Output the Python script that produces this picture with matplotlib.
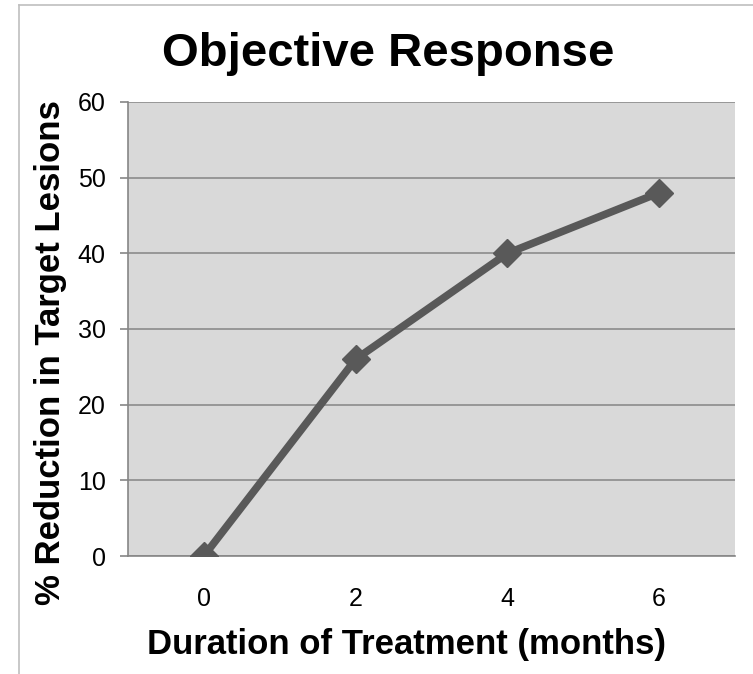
import numpy as np
import matplotlib
matplotlib.use('Agg')
import matplotlib.pyplot as plt
from matplotlib.lines import Line2D

plt.rcParams['font.family'] = ['Liberation Sans', 'DejaVu Sans']

# Data
months = ['0', '2', '4', '6']
reduction = [0, 26, 40, 48]
y_ticks = [0, 10, 20, 30, 40, 50, 60]

fig = plt.figure(figsize=(7.53, 6.74), dpi=100)
ax = fig.add_axes([128 / 753, 1 - 556 / 674, 607 / 753, 454 / 674])

x = np.arange(len(months))
ax.plot(x, reduction, color='#595959', lw=5.5, marker='D', ms=14,
        mfc='#595959', mec='#595959', solid_capstyle='butt', zorder=3)

ax.set_facecolor('#d9d9d9')
ax.set_xlim(-0.5, len(months) - 0.5)
ax.set_ylim(0, 60)
ax.set_yticks(y_ticks)
ax.set_xticks(x)
ax.set_xticklabels(months)
ax.grid(axis='y', color='#8c8c8c', lw=1.2)
ax.set_axisbelow(True)

for side in ['top', 'right']:
	ax.spines[side].set_visible(False)
for side in ['left', 'bottom']:
	ax.spines[side].set_color('#868686')
	ax.spines[side].set_linewidth(1.2)

ax.tick_params(axis='y', length=6, width=1.2, color='#868686', pad=10, labelsize=18)
ax.tick_params(axis='x', length=0, pad=22, labelsize=18)

ax.set_xlabel('Duration of Treatment (months)', fontsize=25, fontweight='bold', va='center')
ax.set_ylabel('% Reduction in Target Lesions', fontsize=25, fontweight='bold', va='center')
ax.xaxis.set_label_coords(0.458, -0.196)
ax.yaxis.set_label_coords(-0.128, 0.449)
fig.text(388 / 753, 1 - 54 / 674, 'Objective Response', fontsize=34, fontweight='bold',
         ha='center', va='center')

# thin frame lines at top and left of the picture
fig.add_artist(Line2D([19 / 753, 1], [1 - 5 / 674] * 2, color='#bfbfbf', lw=1.2))
fig.add_artist(Line2D([19 / 753] * 2, [0, 1 - 5 / 674], color='#bfbfbf', lw=1.2))

fig.savefig('out.png', dpi=100)
